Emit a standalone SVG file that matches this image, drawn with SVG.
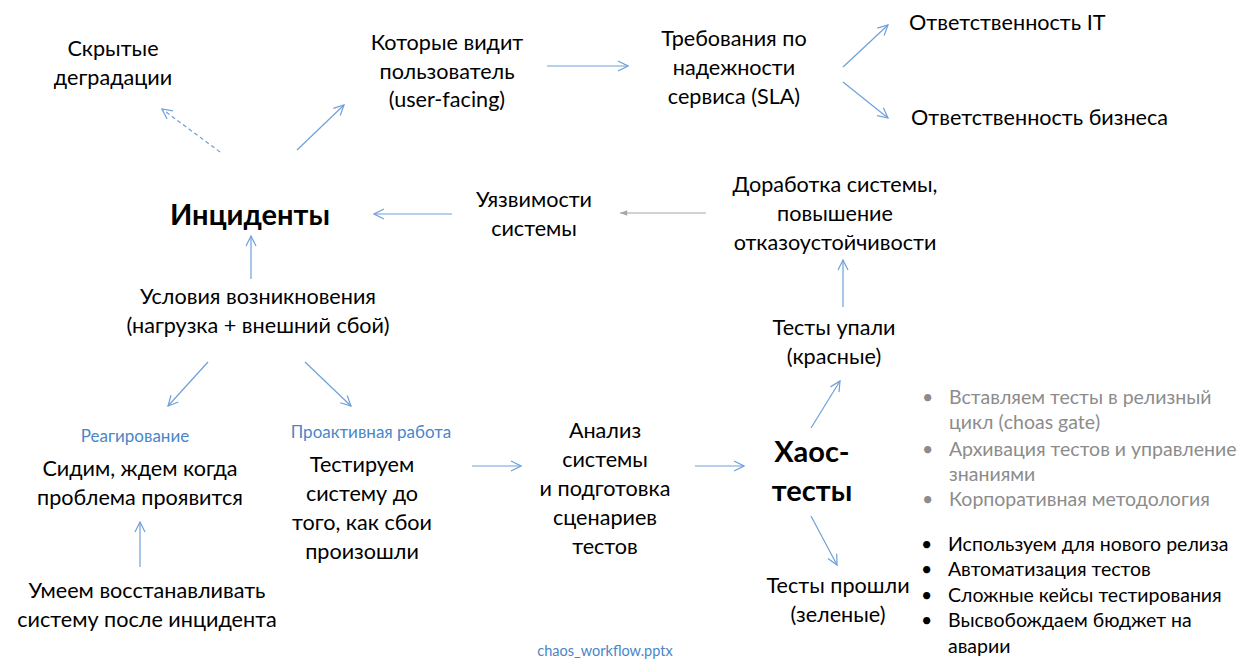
<svg xmlns="http://www.w3.org/2000/svg" width="1255" height="672" viewBox="0 0 1255 672">
<style>
text{font-family:Lato,"Open Sans","Noto Sans",sans-serif;fill:#000}
.t{font-size:21.6px;text-anchor:middle}
.l{font-size:21.6px}
.b{font-size:29px;font-weight:bold;text-anchor:middle}
.lab{font-size:17px;fill:#4a86c8;text-anchor:middle}
.g{font-size:19.5px;fill:#8c8c8c}
.k{font-size:19.5px}
.c{stroke:#6fa0d8;stroke-width:1.2;fill:none;marker-end:url(#a)}
.d{stroke-dasharray:4 3}
.gr{stroke:#a6a6a6;stroke-width:1.2;fill:none;marker-end:url(#ag)}
</style>
<defs>
<marker id="a" viewBox="0 0 12 12" refX="11" refY="6" markerWidth="12" markerHeight="12" markerUnits="userSpaceOnUse" orient="auto"><polyline points="1,1 11,6 1,11" fill="none" stroke="#6fa0d8" stroke-width="1.2"/></marker>
<marker id="ag" viewBox="0 0 10 10" refX="9" refY="5" markerWidth="9" markerHeight="9" markerUnits="userSpaceOnUse" orient="auto"><polygon points="1,2 9,5 1,8" fill="#a6a6a6"/></marker>
</defs>
<g id="connectors">
<line class="c d" x1="220" y1="152" x2="162" y2="109"/>
<line class="c" x1="297" y1="150" x2="344" y2="105"/>
<line class="c" x1="547" y1="66" x2="628" y2="66"/>
<line class="c" x1="843" y1="67" x2="888" y2="25"/>
<line class="c" x1="843" y1="82" x2="888" y2="118"/>
<line class="gr" x1="706" y1="213" x2="620" y2="213"/>
<line class="c" x1="452" y1="214" x2="374" y2="214"/>
<line class="c" x1="251" y1="279" x2="251" y2="236"/>
<line class="c" x1="208" y1="362" x2="168" y2="406"/>
<line class="c" x1="305" y1="362" x2="351" y2="406"/>
<line class="c" x1="140" y1="567" x2="140" y2="522"/>
<line class="c" x1="472" y1="466" x2="521" y2="466"/>
<line class="c" x1="695" y1="466" x2="744" y2="466"/>
<line class="c" x1="811" y1="428" x2="840" y2="381"/>
<line class="c" x1="811" y1="516" x2="837" y2="565"/>
<line class="c" x1="843" y1="307" x2="843" y2="260"/>
</g>
<g id="hidden"><text class="t" x="113" y="56">Скрытые</text><text class="t" x="113" y="85">деградации</text></g>
<g id="userfacing"><text class="t" x="447" y="50">Которые видит</text><text class="t" x="447" y="79">пользователь</text><text class="t" x="447" y="107">(user-facing)</text></g>
<g id="sla"><text class="t" x="734" y="46">Требования по</text><text class="t" x="734" y="75">надежности</text><text class="t" x="734" y="104">сервиса (SLA)</text></g>
<g id="it"><text class="l" x="909" y="30">Ответственность IT</text></g>
<g id="biz"><text class="l" x="911" y="125">Ответственность бизнеса</text></g>
<g id="incidents"><text class="b" x="250" y="225">Инциденты</text></g>
<g id="vuln"><text class="t" x="534" y="207">Уязвимости</text><text class="t" x="534" y="236">системы</text></g>
<g id="improve"><text class="t" x="835" y="192">Доработка системы,</text><text class="t" x="835" y="221">повышение</text><text class="t" x="835" y="250">отказоустойчивости</text></g>
<g id="conditions"><text class="t" x="258" y="304">Условия возникновения</text><text class="t" x="258" y="333">(нагрузка + внешний сбой)</text></g>
<g id="react"><text class="lab" x="135" y="442">Реагирование</text><text class="t" x="140" y="476">Сидим, ждем когда</text><text class="t" x="140" y="505">проблема проявится</text></g>
<g id="proactive"><text class="lab" x="371" y="438">Проактивная работа</text><text class="t" x="362" y="472">Тестируем</text><text class="t" x="362" y="501">систему до</text><text class="t" x="362" y="530">того, как сбои</text><text class="t" x="362" y="559">произошли</text></g>
<g id="restore"><text class="t" x="147" y="598">Умеем восстанавливать</text><text class="t" x="147" y="627">систему после инцидента</text></g>
<g id="analysis"><text class="t" x="605" y="438">Анализ</text><text class="t" x="605" y="467">системы</text><text class="t" x="605" y="496">и подготовка</text><text class="t" x="605" y="525">сценариев</text><text class="t" x="605" y="554">тестов</text></g>
<g id="chaos"><text class="b" x="812" y="462">Хаос-</text><text class="b" x="812" y="501">тесты</text></g>
<g id="failed"><text class="t" x="834" y="335">Тесты упали</text><text class="t" x="834" y="364">(красные)</text></g>
<g id="passed"><text class="t" x="838" y="593">Тесты прошли</text><text class="t" x="838" y="622">(зеленые)</text></g>
<g id="future">
<text class="g" x="922" y="404">•</text><text class="g" x="949" y="404">Вставляем тесты в релизный</text><text class="g" x="949" y="429">цикл (choas gate)</text>
<text class="g" x="922" y="456">•</text><text class="g" x="949" y="456">Архивация тестов и управление</text><text class="g" x="949" y="481">знаниями</text>
<text class="g" x="922" y="506">•</text><text class="g" x="949" y="506">Корпоративная методология</text>
</g>
<g id="benefits">
<text class="k" x="921" y="551">•</text><text class="k" x="948" y="551">Используем для нового релиза</text>
<text class="k" x="921" y="576">•</text><text class="k" x="948" y="576">Автоматизация тестов</text>
<text class="k" x="921" y="602">•</text><text class="k" x="948" y="602">Сложные кейсы тестирования</text>
<text class="k" x="921" y="627">•</text><text class="k" x="948" y="627">Высвобождаем бюджет на</text><text class="k" x="948" y="653">аварии</text>
</g>
<g id="footer"><text class="lab" x="605" y="656" style="font-size:14.5px">chaos_workflow.pptx</text></g>
</svg>
